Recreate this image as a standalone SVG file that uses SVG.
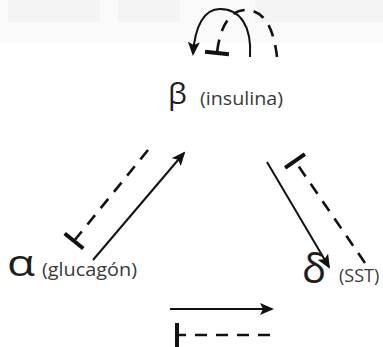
<svg xmlns="http://www.w3.org/2000/svg" width="383" height="347" viewBox="0 0 383 347">
  <style>
    .greek { font-family: "Open Sans", "Liberation Sans", sans-serif; fill: #1e1e1e; }
    .hormone { font-family: "Open Sans", "Liberation Sans", sans-serif; font-size: 18px; fill: #3a3a3a; }
    .act { fill: none; stroke: #111; stroke-width: 2; marker-end: url(#arrow); }
    .inh { fill: none; stroke: #111; stroke-width: 2.6; stroke-dasharray: 12 9; marker-end: url(#tbar); }
  </style>
  <defs>
    <marker id="arrow" viewBox="0 0 14 12" refX="12" refY="6" markerWidth="14" markerHeight="12" markerUnits="userSpaceOnUse" orient="auto">
      <path d="M0,0 L14,6 L0,12 L3,6 Z" fill="#111"/>
    </marker>
    <marker id="tbar" viewBox="-3 -13 6 26" refX="0" refY="0" markerWidth="6" markerHeight="26" markerUnits="userSpaceOnUse" orient="auto">
      <path d="M0,-12 L0,12" stroke="#111" stroke-width="4"/>
    </marker>
  </defs>

  <rect width="383" height="347" fill="#fff"/>

  <!-- faint header band -->
  <g id="backdrop" fill="#f4f4f4">
    <rect x="0" y="0" width="383" height="43" fill="#fafafa"/>
    <rect x="8" y="0" width="92" height="22"/>
    <rect x="118" y="0" width="62" height="22"/>
    <rect x="255" y="0" width="128" height="22"/>
  </g>

  <g id="connectors">
    <!-- beta self-loop: stimulation and inhibition -->
    <path class="act" d="M250,57 C252,26 240,9 220,9 C204,9 195,26 193,54"/>
    <path class="inh" stroke-dasharray="10 7" d="M277,57 C274,30 265,10 246,10 C230,10 220,26 217,53"/>
    <!-- alpha -> beta -->
    <path class="act" d="M93,260 L184,153"/>
    <path class="inh" d="M148,150 L74,241"/>
    <!-- beta -> delta -->
    <path class="act" d="M267,162 L329,267"/>
    <path class="inh" d="M365,263 L295,161"/>
    <!-- alpha -> delta -->
    <path class="act" d="M170,309 L272,309"/>
    <path class="inh" stroke-dasharray="13 12.5" d="M270,335 L177,335"/>
  </g>

  <g id="beta">
    <text class="greek" x="168" y="104" font-size="30">β</text>
    <text class="hormone" x="200" y="105" textLength="83" lengthAdjust="spacingAndGlyphs">(insulina)</text>
  </g>
  <g id="alpha">
    <text class="greek" x="7" y="276" font-size="36" textLength="28" lengthAdjust="spacingAndGlyphs">α</text>
    <text class="hormone" x="42" y="276" textLength="95" lengthAdjust="spacingAndGlyphs">(glucagón)</text>
  </g>
  <g id="delta">
    <text class="greek" x="302" y="283" font-size="40">δ</text>
    <text class="hormone" x="339" y="282">(SST)</text>
  </g>
</svg>
